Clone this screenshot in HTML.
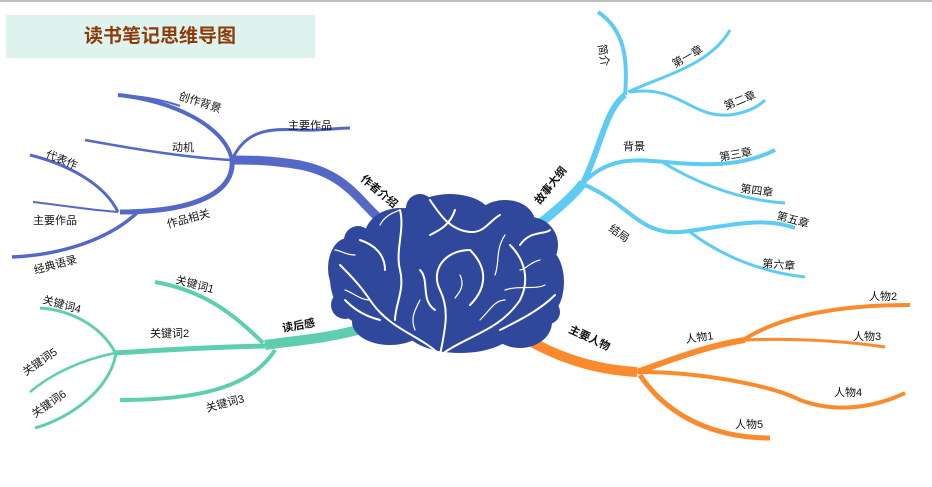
<!DOCTYPE html>
<html><head><meta charset="utf-8"><style>
html,body{margin:0;padding:0;background:#fff;width:932px;height:487px;overflow:hidden}
svg text{font-family:"Liberation Sans","Noto Sans CJK SC",sans-serif;font-size:11px;fill:#111}
</style></head><body>
<svg width="932" height="487" viewBox="0 0 932 487" xmlns="http://www.w3.org/2000/svg">
<rect x="0" y="0" width="932" height="2" fill="#bdbdbd"/>
<g stroke="#bdbdbd" stroke-width="1">
<line x1="6.5" y1="0" x2="6.5" y2="2"/><line x1="50.5" y1="0" x2="50.5" y2="2"/><line x1="94.5" y1="0" x2="94.5" y2="2"/><line x1="138.5" y1="0" x2="138.5" y2="2"/><line x1="182.5" y1="0" x2="182.5" y2="2"/><line x1="226.5" y1="0" x2="226.5" y2="2"/><line x1="270.5" y1="0" x2="270.5" y2="2"/><line x1="314.5" y1="0" x2="314.5" y2="2"/><line x1="358.5" y1="0" x2="358.5" y2="2"/>
</g>
<rect x="6" y="15" width="309" height="43" fill="#dff3ee"/>
<text x="160" y="42" text-anchor="middle" style="font-size:19px;font-weight:bold;fill:#8b3a0a">读书笔记思维导图</text>

<!-- Blue branch -->
<g fill="none" stroke="#5468c8" stroke-linecap="butt">
<path d="M390,228 C360,205 350,175 300,165 C270,160 250,160 232,160" stroke-width="9"/>
<path d="M232,160 C245,130 270,128 300,130 C320,131 335,128 350,128" stroke-width="3"/>
<path d="M232,160 C225,125 170,100 118,95" stroke-width="4"/>
<path d="M180,106 C160,99 140,96 118,95" stroke-width="2"/>
<path d="M232,160 C190,158 140,150 85,140" stroke-width="2.5"/>
<path d="M232,160 C235,190 200,212 120,212" stroke-width="5"/>
<path d="M140,210 C110,240 60,255 12,257" stroke-width="3.5"/>
<path d="M118,212 C105,185 70,165 30,155" stroke-width="3"/>
<path d="M118,212 C90,210 60,205 33,202" stroke-width="2"/>
</g>
<!-- Cyan branch -->
<g fill="none" stroke="#5ecbf3" stroke-linecap="butt">
<path d="M532,230 C550,215 570,200 583,183" stroke-width="9"/>
<path d="M583,183 C600,150 605,110 625,95" stroke-width="6"/>
<path d="M625,95 C628,60 625,30 598,12" stroke-width="4"/>
<path d="M628,92 C665,75 710,65 730,30" stroke-width="3"/>
<path d="M630,92 C680,85 690,118 730,115 C750,112 760,105 765,100" stroke-width="3"/>
<path d="M583,183 C610,155 640,160 665,162 C700,165 740,168 775,150" stroke-width="4"/>
<path d="M662,162 C700,185 740,200 785,203" stroke-width="3"/>
<path d="M585,185 C630,205 640,235 680,232 C720,228 760,215 795,228" stroke-width="4"/>
<path d="M690,232 C720,255 760,272 805,277" stroke-width="3"/>
</g>
<!-- Orange branch -->
<g fill="none" stroke="#fb8a2c" stroke-linecap="butt">
<path d="M520,335 C560,360 600,370 637,372" stroke-width="10"/>
<path d="M637,372 C670,360 710,345 745,340" stroke-width="6"/>
<path d="M740,342 C780,315 840,305 910,305" stroke-width="4"/>
<path d="M745,340 C800,338 850,342 885,347" stroke-width="3"/>
<path d="M640,372 C700,372 770,385 800,400 C840,415 880,405 905,393" stroke-width="4"/>
<path d="M640,375 C670,420 720,438 770,438" stroke-width="5"/>
</g>
<!-- Green branch -->
<g fill="none" stroke="#5ecfae" stroke-linecap="butt">
<path d="M365,328 C330,338 300,340 265,345" stroke-width="10"/>
<path d="M263,343 C230,310 200,290 155,282" stroke-width="4"/>
<path d="M275,350 C250,390 190,400 120,400" stroke-width="4"/>
<path d="M265,346 C210,347 160,350 115,353" stroke-width="5"/>
<path d="M115,352 C100,325 70,310 40,308" stroke-width="3"/>
<path d="M115,353 C80,360 50,375 30,392" stroke-width="2.5"/>
<path d="M116,353 C110,390 70,418 35,428" stroke-width="3"/>
</g>

<!-- Brain -->
<g fill="#30489c">
<ellipse cx="450" cy="268" rx="95" ry="68"/>
<ellipse cx="370" cy="278" rx="40" ry="48"/>
<ellipse cx="400" cy="238" rx="36" ry="30"/>
<ellipse cx="450" cy="218" rx="42" ry="24"/>
<ellipse cx="505" cy="222" rx="30" ry="22"/>
<ellipse cx="530" cy="245" rx="28" ry="28"/>
<ellipse cx="545" cy="282" rx="19" ry="34"/>
<ellipse cx="520" cy="322" rx="32" ry="26"/>
<ellipse cx="460" cy="328" rx="55" ry="25"/>
<ellipse cx="390" cy="322" rx="38" ry="23"/>
<ellipse cx="348" cy="268" rx="20" ry="30"/>
<circle cx="358" cy="240" r="14"/>
<circle cx="345" cy="305" r="14"/>
<circle cx="420" cy="208" r="14"/>
<circle cx="548" cy="312" r="12"/>
</g>
<g fill="none" stroke="#fff" stroke-width="2" stroke-linecap="round">
<path d="M440,355 C445,330 450,310 440,290 C430,270 445,250 470,250"/>
<path d="M440,355 C420,335 390,330 370,300 C360,285 350,275 340,265"/>
<path d="M445,352 C470,335 500,330 520,300 C530,280 525,260 510,245"/>
<path d="M400,210 C405,230 395,250 400,270 C405,290 395,305 395,320"/>
<path d="M430,200 C440,215 450,230 470,232 C485,233 490,220 500,215"/>
<path d="M500,330 C520,320 540,310 555,295"/>
<path d="M380,320 C360,315 350,305 345,300"/>
<path d="M470,250 C490,270 485,290 470,305"/>
<path d="M420,270 C430,280 420,300 435,310"/>
<path d="M520,245 C530,230 545,235 550,230"/>
<path d="M360,240 C375,245 385,255 385,270"/>
<path d="M455,210 C450,225 440,230 430,235"/>
</g>
<g fill="none" stroke="#fff" stroke-width="1.2" stroke-linecap="round">
<path d="M370,300 C360,300 352,292 345,290"/>
<path d="M505,290 C520,285 535,290 545,285"/>
<path d="M480,320 C490,310 495,300 505,300"/>
<path d="M415,330 C410,318 415,310 420,300"/>
<path d="M505,235 C495,250 500,262 495,275"/>
<path d="M380,225 C385,215 395,212 400,210"/>
<path d="M460,275 C465,285 460,292 455,298"/>
<path d="M540,260 C530,262 525,270 520,270"/>
<path d="M355,255 C345,255 340,250 335,250"/>
</g>

<!-- Labels -->
<text x="360" y="180" transform="rotate(40 360 180)" style="font-weight:bold">作者介绍</text>
<text x="178" y="99" transform="rotate(18 178 99)">创作背景</text>
<text x="288" y="129">主要作品</text>
<text x="172" y="151">动机</text>
<text x="45" y="157" transform="rotate(22 45 157)">代表作</text>
<text x="33" y="224">主要作品</text>
<text x="168" y="228" transform="rotate(-15 168 228)">作品相关</text>
<text x="35" y="274" transform="rotate(-15 35 274)">经典语录</text>

<text x="540" y="205" transform="rotate(-52 540 205)" style="font-weight:bold">故事大纲</text>
<text x="598" y="45" transform="rotate(80 598 45)">简介</text>
<text x="675" y="68" transform="rotate(-30 675 68)">第一章</text>
<text x="726" y="110" transform="rotate(-22 726 110)">第二章</text>
<text x="623" y="150">背景</text>
<text x="720" y="161" transform="rotate(-10 720 161)">第三章</text>
<text x="740" y="192" transform="rotate(8 740 192)">第四章</text>
<text x="776" y="219" transform="rotate(15 776 219)">第五章</text>
<text x="762" y="267" transform="rotate(5 762 267)">第六章</text>
<text x="608" y="230" transform="rotate(35 608 230)">结局</text>

<text x="568" y="332" transform="rotate(25 568 332)" style="font-weight:bold">主要人物</text>
<text x="686" y="343" transform="rotate(-8 686 343)">人物1</text>
<text x="869" y="300">人物2</text>
<text x="853" y="340">人物3</text>
<text x="834" y="396">人物4</text>
<text x="735" y="428">人物5</text>

<text x="283" y="332" transform="rotate(-10 283 332)" style="font-weight:bold">读后感</text>
<text x="175" y="283" transform="rotate(15 175 283)">关键词1</text>
<text x="150" y="337">关键词2</text>
<text x="207" y="412" transform="rotate(-15 207 412)">关键词3</text>
<text x="42" y="303" transform="rotate(15 42 303)">关键词4</text>
<text x="26" y="376" transform="rotate(-35 26 376)">关键词5</text>
<text x="35" y="418" transform="rotate(-35 35 418)">关键词6</text>
</svg>
</body></html>
